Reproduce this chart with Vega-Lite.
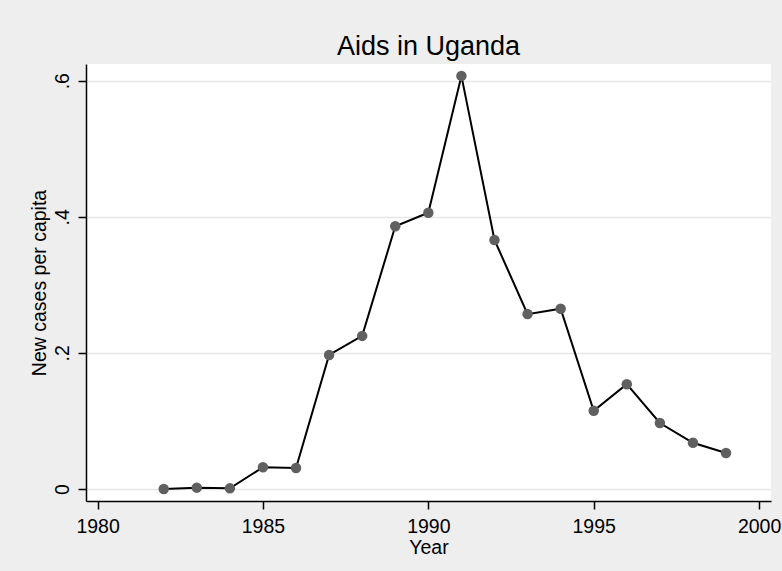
{
  "$schema": "https://vega.github.io/schema/vega-lite/v6.json",
  "autosize": "none",
  "width": 685,
  "height": 437,
  "padding": {"left": 86, "top": 64, "right": 11, "bottom": 70},
  "background": "#EEEEEE",
  "config": {
    "view": {"stroke": null, "fill": "white"},
    "font": "Liberation Sans"
  },
  "title": {
    "text": "Aids in Uganda",
    "fontSize": 27,
    "fontWeight": "normal",
    "color": "#000000",
    "anchor": "middle",
    "offset": 3,
    "font": "Liberation Sans"
  },
  "data": {
    "values": [
      {"year": 1982, "cases": 0.000},
      {"year": 1983, "cases": 0.002},
      {"year": 1984, "cases": 0.001},
      {"year": 1985, "cases": 0.032},
      {"year": 1986, "cases": 0.031},
      {"year": 1987, "cases": 0.197},
      {"year": 1988, "cases": 0.225},
      {"year": 1989, "cases": 0.386},
      {"year": 1990, "cases": 0.406},
      {"year": 1991, "cases": 0.607},
      {"year": 1992, "cases": 0.366},
      {"year": 1993, "cases": 0.257},
      {"year": 1994, "cases": 0.265},
      {"year": 1995, "cases": 0.115},
      {"year": 1996, "cases": 0.154},
      {"year": 1997, "cases": 0.097},
      {"year": 1998, "cases": 0.068},
      {"year": 1999, "cases": 0.053}
    ]
  },
  "encoding": {
    "x": {
      "field": "year",
      "type": "quantitative",
      "scale": {"domain": [1979.65, 2000.36], "nice": false, "zero": false},
      "axis": {
        "title": "Year",
        "values": [1980, 1985, 1990, 1995, 2000],
        "format": "d",
        "grid": false,
        "domainColor": "#000000",
        "domainWidth": 1.5,
        "tickColor": "#000000",
        "tickWidth": 1.5,
        "tickSize": 8,
        "labelFontSize": 19.5,
        "labelColor": "#000000",
        "labelPadding": 8,
        "titleFontSize": 19.5,
        "titleFontWeight": "normal",
        "titleColor": "#000000",
        "titlePadding": 3,
        "labelFlush": false,
        "labelOverlap": false
      }
    },
    "y": {
      "field": "cases",
      "type": "quantitative",
      "scale": {"domain": [-0.0176, 0.6245], "nice": false, "zero": false},
      "axis": {
        "title": "New cases per capita",
        "values": [0, 0.2, 0.4, 0.6],
        "labelExpr": "datum.value == 0 ? '0' : replace(format(datum.value, '.1f'), '0.', '.')",
        "grid": true,
        "gridColor": "#E6E6E6",
        "gridWidth": 1.5,
        "domainColor": "#000000",
        "domainWidth": 1.5,
        "tickColor": "#000000",
        "tickWidth": 1.5,
        "tickSize": 8,
        "labelFontSize": 19.5,
        "labelColor": "#000000",
        "labelAngle": 270,
        "labelAlign": "center",
        "labelBaseline": "alphabetic",
        "labelPadding": 10,
        "titleFontSize": 19.5,
        "titleFontWeight": "normal",
        "titleColor": "#000000",
        "titlePadding": 3,
        "labelFlush": false,
        "labelOverlap": false
      }
    }
  },
  "layer": [
    {"mark": {"type": "line", "color": "#000000", "strokeWidth": 2}},
    {"mark": {"type": "point", "filled": true, "color": "#606060", "opacity": 1, "size": 110}}
  ]
}
